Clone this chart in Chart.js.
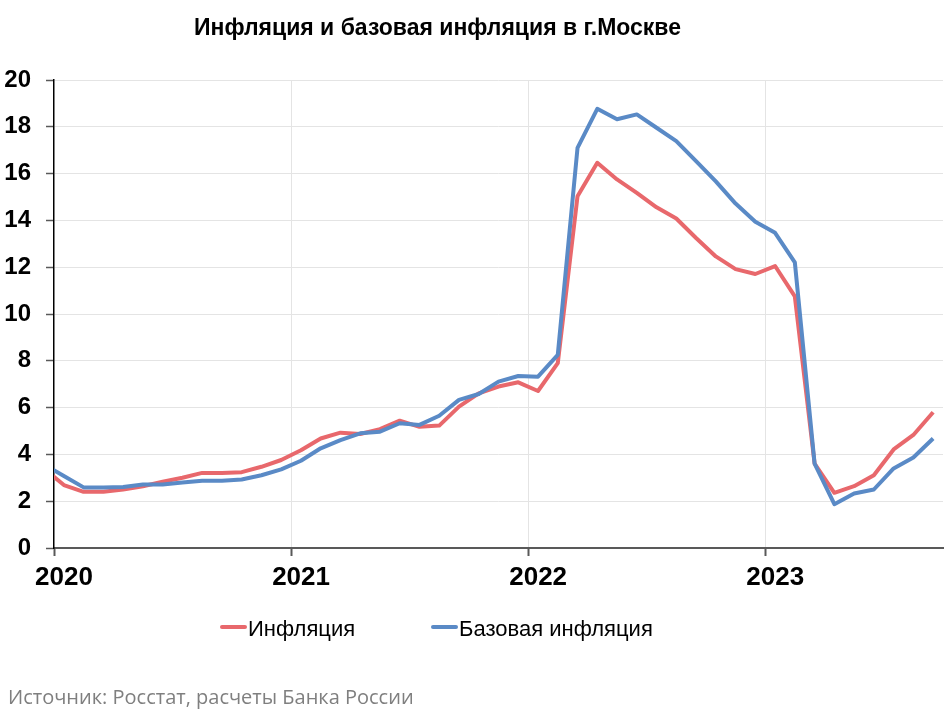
<!DOCTYPE html>
<html lang="ru">
<head>
<meta charset="utf-8">
<title>Инфляция и базовая инфляция в г.Москве</title>
<script src="https://cdn.jsdelivr.net/npm/chart.js@4.4.1/dist/chart.umd.min.js"></script>
<style>
  body { margin: 0; background: #fff; }
  #wrap { position: relative; width: 950px; height: 712px; font-family: 'Liberation Sans', Arial, sans-serif; }
  #wrap canvas { position: absolute; left: 0; top: 0; }
  .title { position: absolute; left: 0; width: 875px; top: 16px; text-align: center; font-weight: bold; font-size: 23px; line-height: 23px; color: #000; }
  .legend-item { position: absolute; top: 618px; height: 22px; font-size: 22px; line-height: 22px; padding-left: 28px; white-space: nowrap; color: #000; }
  .legend-item i { position: absolute; left: 0; top: 7px; width: 27px; height: 4px; border-radius: 2px; }
  .source { position: absolute; left: 8px; top: 687px; font-family: 'Open Sans', sans-serif; font-size: 20px; line-height: 20px; color: #7f7f7f; white-space: nowrap; }
</style>
</head>
<body>
<div id="wrap">
  <canvas id="chart" width="950" height="712"></canvas>
  <div class="title">Инфляция и базовая инфляция в г.Москве</div>
  <div id="legend"></div>
  <div class="source">Источник: Росстат, расчеты Банка России</div>
</div>
<script>
// months from Dec 2019 (cut off at the left edge) to Sep 2023
const months = [
  '2019-12',
  '2020-01', '2020-02', '2020-03', '2020-04', '2020-05', '2020-06', '2020-07', '2020-08', '2020-09', '2020-10', '2020-11', '2020-12',
  '2021-01', '2021-02', '2021-03', '2021-04', '2021-05', '2021-06', '2021-07', '2021-08', '2021-09', '2021-10', '2021-11', '2021-12',
  '2022-01', '2022-02', '2022-03', '2022-04', '2022-05', '2022-06', '2022-07', '2022-08', '2022-09', '2022-10', '2022-11', '2022-12',
  '2023-01', '2023-02', '2023-03', '2023-04', '2023-05', '2023-06', '2023-07', '2023-08', '2023-09'
];
const yearLabels = ['2020', '2021', '2022', '2023'];

const inflation = [
  3.39,
  2.69, 2.40, 2.40, 2.50, 2.64, 2.83, 3.00, 3.21, 3.21, 3.24, 3.47, 3.76,
  4.18, 4.68, 4.93, 4.87, 5.08, 5.44, 5.18, 5.23, 6.04, 6.61, 6.90, 7.08,
  6.71, 7.90, 15.03, 16.46, 15.75, 15.18, 14.56, 14.08, 13.25, 12.46, 11.92, 11.71,
  12.05, 10.75, 3.61, 2.36, 2.64, 3.11, 4.21, 4.83, 5.80
];
const baseInflation = [
  3.57,
  3.08, 2.59, 2.59, 2.61, 2.71, 2.71, 2.80, 2.87, 2.87, 2.93, 3.11, 3.36,
  3.73, 4.26, 4.61, 4.90, 4.97, 5.33, 5.26, 5.65, 6.33, 6.58, 7.11, 7.35,
  7.32, 8.25, 17.10, 18.77, 18.32, 18.53, 17.96, 17.39, 16.53, 15.67, 14.72, 13.94,
  13.47, 12.21, 3.61, 1.87, 2.33, 2.50, 3.40, 3.87, 4.68
];

const series = [
  { label: 'Инфляция', values: inflation, color: '#e8686c' },
  { label: 'Базовая инфляция', values: baseInflation, color: '#5a8ac6' }
];

// x = month index, Jan 2020 = 0
const toPoints = vals => vals.map((v, i) => ({ x: i - 1, y: v }));

new Chart(document.getElementById('chart'), {
  type: 'line',
  data: {
    datasets: series.map((s, i) => ({
      label: s.label,
      data: toPoints(s.values),
      borderColor: s.color,
      backgroundColor: s.color,
      borderWidth: 4,
      borderJoinStyle: 'round',
      pointRadius: 0,
      tension: 0,
      clip: 0,
      order: series.length - i
    }))
  },
  options: {
    responsive: false,
    animation: false,
    layout: { padding: { top: 80, right: 7, bottom: 114, left: 0 } },
    plugins: { legend: { display: false }, tooltip: { enabled: false } },
    scales: {
      x: {
        type: 'linear',
        min: -0.5,
        max: months.length - 1.5,
        afterBuildTicks: axis => { axis.ticks = yearLabels.map((y, i) => ({ value: i * 12 - 0.5 })); },
        afterFit: axis => { axis.height = 50; },
        ticks: {
          autoSkip: false, maxRotation: 0, labelOffset: 10, padding: 6, color: '#000',
          font: { family: 'Liberation Sans', size: 26, weight: 'bold' },
          callback: (v, i) => yearLabels[i]
        },
        grid: {
          color: ctx => ctx.index === 0 ? 'rgba(0,0,0,0)' : '#e4e4e4',
          tickColor: '#595959', tickLength: 8, tickWidth: 2, lineWidth: 1
        },
        border: { color: '#595959', width: 2 }
      },
      y: {
        min: 0, max: 20,
        afterFit: axis => { axis.width = 54; },
        ticks: {
          stepSize: 2, padding: 15, color: '#000',
          font: { family: 'Liberation Sans', size: 24, weight: 'bold' }
        },
        grid: {
          color: ctx => ctx.tick && ctx.tick.value === 0 ? 'rgba(0,0,0,0)' : '#e4e4e4',
          tickColor: '#595959', tickLength: 8, tickWidth: 1.5, lineWidth: 1
        },
        border: { color: '#000', width: 1.5 }
      }
    }
  }
});

// legend below the plot
const legend = document.getElementById('legend');
const legendLeft = [220, 431];
legend.innerHTML = series.map((s, i) =>
  `<div class="legend-item" style="left:${legendLeft[i]}px"><i style="background:${s.color}"></i>${s.label}</div>`
).join('');
</script>
</body>
</html>
